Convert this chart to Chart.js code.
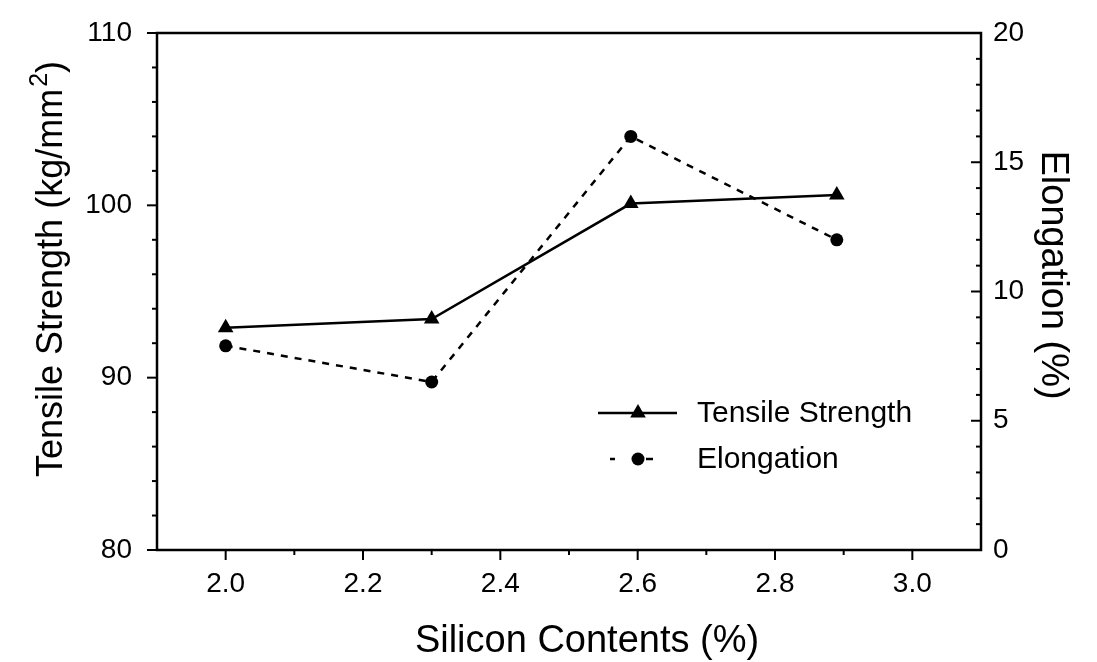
<!DOCTYPE html>
<html><head><meta charset="utf-8">
<script src="https://cdn.jsdelivr.net/npm/chart.js@4.4.1/dist/chart.umd.min.js"></script>
<style>html,body{margin:0;padding:0;background:#fff;}#wrap{width:1097px;height:662px;}</style>
</head><body><div id="wrap"><canvas id="c" width="1097" height="662"></canvas></div>
<script>
// ---- data ----
const siliconContents = [2.0, 2.3, 2.59, 2.89];
const tensileStrength = [92.9, 93.4, 100.1, 100.6];
const elongation = [7.9, 6.5, 16.0, 12.0];
const xTickValues = [2.0, 2.2, 2.4, 2.6, 2.8, 3.0];
const leftTickValues = [80, 90, 100, 110];
const rightTickValues = [0, 5, 10, 15, 20];
const seriesNames = ['Tensile Strength', 'Elongation'];
const xTitle = 'Silicon Contents (%)';
const leftTitleParts = ['Tensile Strength (kg/mm', '2', ')'];
const rightTitle = 'Elongation (%)';

const FONT = '"Liberation Sans", Arial, Helvetica, sans-serif';
Chart.defaults.font.family = FONT;
Chart.defaults.color = '#000';

function fixedTicks(values){ return function(scale){ scale.ticks = values.map(v => ({value: v})); }; }
function noPad(s){ s.paddingTop = 0; s.paddingBottom = 0; s.paddingLeft = 0; s.paddingRight = 0; }

const framePlugin = {
  id: 'frame',
  beforeDraw(chart){
    const ctx = chart.ctx; ctx.save(); ctx.fillStyle = '#fff';
    ctx.fillRect(0, 0, chart.width, chart.height); ctx.restore();
  },
  afterDraw(chart){
    const {ctx, chartArea: a, scales} = chart;
    ctx.save();
    ctx.strokeStyle = '#000'; ctx.lineWidth = 2.5; ctx.setLineDash([]);
    ctx.strokeRect(a.left, a.top, a.right - a.left, a.bottom - a.top);
    ctx.lineWidth = 2;
    const line = (x1,y1,x2,y2) => { ctx.beginPath(); ctx.moveTo(x1,y1); ctx.lineTo(x2,y2); ctx.stroke(); };
    // bottom axis ticks (outward)
    const xs = scales.x;
    for (let i = 1; i < 12; i++) {
      const v = 1.9 + i * 0.1;
      const px = xs.getPixelForValue(v);
      const major = (i % 2 === 1);
      line(px, a.bottom, px, a.bottom + (major ? 10 : 5));
    }
    // left axis ticks (outward)
    const yl = scales.y;
    for (let v = 80; v <= 110; v += 2) {
      const py = yl.getPixelForValue(v);
      const major = (v % 10 === 0);
      line(a.left - (major ? 10 : 5), py, a.left, py);
    }
    // right axis ticks (inward)
    const yr = scales.y1;
    for (let v = 0; v <= 20; v += 1) {
      const py = yr.getPixelForValue(v);
      const major = (v % 5 === 0);
      line(a.right - (major ? 10 : 5), py, a.right, py);
    }
    // legend
    const lx0 = a.left + 441, lx1 = a.left + 520, mx = a.left + 481, tx = a.left + 540;
    const r1 = a.top + 380, r2 = a.top + 426;
    ctx.lineWidth = 2.5;
    line(lx0, r1, lx1, r1);
    ctx.fillStyle = '#000';
    ctx.beginPath(); ctx.moveTo(mx, r1 - 9); ctx.lineTo(mx + 7.8, r1 + 4.5); ctx.lineTo(mx - 7.8, r1 + 4.5); ctx.closePath(); ctx.fill();
    line(lx0 + 12, r2, lx0 + 17, r2);
    line(mx + 8, r2, mx + 15, r2);
    ctx.beginPath(); ctx.arc(mx, r2, 6.5, 0, Math.PI * 2); ctx.fill();
    ctx.font = '30px ' + FONT; ctx.textBaseline = 'middle'; ctx.textAlign = 'left';
    ctx.fillText(seriesNames[0], tx, r1 + 1);
    ctx.fillText(seriesNames[1], tx, r2 + 1);

    // axis titles
    ctx.textBaseline = 'alphabetic';
    // bottom
    ctx.font = '38px ' + FONT; ctx.textAlign = 'center';
    ctx.fillText(xTitle, 587, 652);
    // right (rotated +90)
    ctx.save();
    ctx.translate(1042, 275); ctx.rotate(Math.PI / 2);
    ctx.font = '38px ' + FONT; ctx.textAlign = 'center';
    ctx.fillText(rightTitle, 0, 0);
    ctx.restore();
    // left (rotated -90) with superscript
    ctx.save();
    ctx.translate(62, 269); ctx.rotate(-Math.PI / 2);
    const big = '36px ' + FONT, small = '25px ' + FONT;
    ctx.font = big; const w1 = ctx.measureText(leftTitleParts[0]).width, w3 = ctx.measureText(leftTitleParts[2]).width;
    ctx.font = small; const w2 = ctx.measureText(leftTitleParts[1]).width + 2;
    let x0 = -(w1 + w2 + w3) / 2;
    ctx.textAlign = 'left';
    ctx.font = big; ctx.fillText(leftTitleParts[0], x0, 0);
    ctx.font = small; ctx.fillText(leftTitleParts[1], x0 + w1 + 2, -15);
    ctx.font = big; ctx.fillText(leftTitleParts[2], x0 + w1 + w2, 0);
    ctx.restore();
    ctx.restore();
  }
};

new Chart(document.getElementById('c'), {
  type: 'line',
  data: {
    datasets: [
      {
        label: seriesNames[0],
        data: siliconContents.map((x, i) => ({x: x, y: tensileStrength[i]})),
        yAxisID: 'y', borderColor: '#000', backgroundColor: '#000', borderWidth: 2.5,
        pointStyle: 'triangle', pointRadius: 9, pointBorderWidth: 0, tension: 0, fill: false
      },
      {
        label: seriesNames[1],
        data: siliconContents.map((x, i) => ({x: x, y: elongation[i]})),
        yAxisID: 'y1', borderColor: '#000', backgroundColor: '#000', borderWidth: 2.5,
        borderDash: [7, 7], pointStyle: 'circle', pointRadius: 6.5, pointBorderWidth: 0, tension: 0, fill: false
      }
    ]
  },
  options: {
    responsive: false, animation: false,
    layout: { padding: { top: 33, left: 0, right: 0, bottom: 0 } },
    plugins: { legend: { display: false }, tooltip: { enabled: false } },
    scales: {
      x: {
        type: 'linear', position: 'bottom', min: 1.9, max: 3.1,
        afterBuildTicks: fixedTicks(xTickValues),
        afterFit(s){ s.height = 112; noPad(s); },
        grid: { display: false, drawTicks: false }, border: { display: false },
        ticks: { font: { size: 28 }, color: '#000', padding: 17, callback: v => v.toFixed(1), autoSkip: false, maxRotation: 0 },
        title: { display: false }
      },
      y: {
        type: 'linear', position: 'left', min: 80, max: 110,
        afterBuildTicks: fixedTicks(leftTickValues),
        afterFit(s){ s.width = 157; noPad(s); },
        grid: { display: false, drawTicks: false }, border: { display: false },
        ticks: { font: { size: 28 }, color: '#000', padding: 25 },
        title: { display: false }
      },
      y1: {
        type: 'linear', position: 'right', min: 0, max: 20,
        afterBuildTicks: fixedTicks(rightTickValues),
        afterFit(s){ s.width = 116; noPad(s); },
        grid: { display: false, drawTicks: false }, border: { display: false },
        ticks: { font: { size: 28 }, color: '#000', padding: 12 },
        title: { display: false }
      }
    }
  },
  plugins: [framePlugin]
});
</script>
</body></html>
